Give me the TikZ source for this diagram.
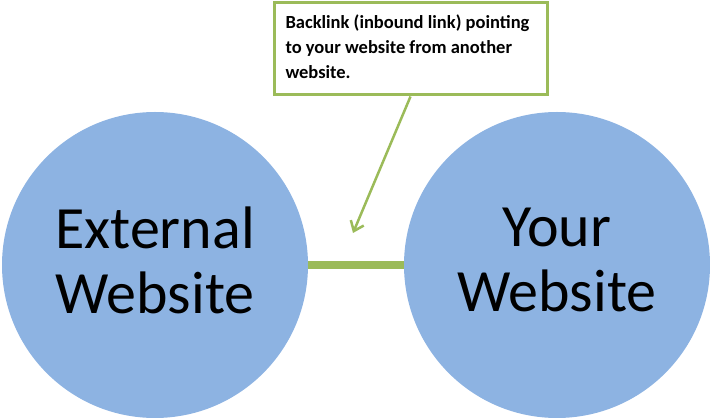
\documentclass[tikz,border=0pt]{standalone}
\usepackage{fontspec}
\setmainfont{Carlito}
\usepackage{tikz}
\usetikzlibrary{arrows.meta}
\definecolor{siteblue}{HTML}{8DB3E2}
\definecolor{linkgreen}{HTML}{9BBB59}

\begin{document}
\begin{tikzpicture}[x=1pt,y=-1pt,
  site/.style={circle,fill=siteblue,minimum size=306pt,inner sep=0pt,align=center,text depth=10pt,font=\fontsize{60}{65}\selectfont},
  note/.style={draw=linkgreen,line width=3pt,fill=white,text width=250pt,inner xsep=11.5pt,minimum height=92pt,align=flush left,font=\bfseries\fontsize{18.5}{25}\selectfont},
  link/.style={line width=8pt,linkgreen}]
\useasboundingbox (0,0) rectangle (710,419);
%Построение кругов
\node[site] (ext) at (155,265) {External\\Website};
\node[site] (your) at (557,265) {Your\\Website};

%Связь между сайтами
\draw[link] (ext.east) -- (your.west);

%Выноска со стрелкой
\node[note] (backlink) at (410.5,49) {Backlink (inbound link) pointing\\to your website from another\\website.\rule[-5pt]{0pt}{5pt}};
\coordinate (tip) at (353,233);
\draw[-{Straight Barb[length=9pt,width=14pt]},line width=2.5pt,linkgreen] (backlink.south) -- (tip);

\end{tikzpicture}
\end{document}
